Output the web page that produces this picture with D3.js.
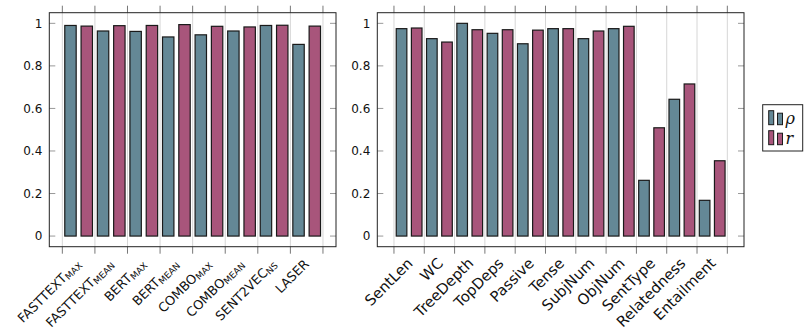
<!DOCTYPE html>
<html><head><meta charset="utf-8">
<script src="https://cdn.jsdelivr.net/npm/d3@7"></script>
<style>body{margin:0;background:#fff}svg{display:block}text{font-family:"DejaVu Sans",sans-serif}</style>
</head><body>
<svg id="c" width="806" height="333"></svg>
<script>
// ---- data ----
const leftNames = ["FASTTEXT","FASTTEXT","BERT","BERT","COMBO","COMBO","SENT2VEC","LASER"];
const leftSubs  = ["MAX","MEAN","MAX","MEAN","MAX","MEAN","NS",""];
const leftRho   = [0.990,0.964,0.962,0.936,0.946,0.964,0.990,0.901];
const leftR     = [0.987,0.989,0.990,0.994,0.986,0.983,0.991,0.987];
const rightCats = ["SentLen","WC","TreeDepth","TopDeps","Passive","Tense","SubjNum","ObjNum","SentType","Relatedness","Entailment"];
const rightRho  = [0.975,0.928,1.000,0.953,0.904,0.975,0.928,0.975,0.262,0.643,0.168];
const rightR    = [0.978,0.912,0.970,0.970,0.968,0.975,0.964,0.986,0.509,0.715,0.354];
const yTicks    = [0,0.2,0.4,0.6,0.8,1];
const yTickLabels = ["0","0.2","0.4","0.6","0.8","1"];
const seriesNames = ["ρ","r"];
const colors = ["#648896","#a8557b"];

const svg = d3.select("#c");
const yTop = 12.7, yBot = 246.7;
const y = d3.scaleLinear().domain([-0.05,1.05]).range([yBot,yTop]);

function panel(x0,x1,n,rho,r,labelFn,dxl){
  const g = svg.append("g");
  const x = d3.scaleLinear().domain([-0.05*n,1.05*n]).range([x0,x1]);
  const bounds = d3.range(n+1);
  g.selectAll(".grid").data(bounds).join("line")
    .attr("x1",d=>x(d)).attr("x2",d=>x(d)).attr("y1",yTop).attr("y2",yBot)
    .attr("stroke","#d6d6d6").attr("stroke-width",1);
  g.selectAll(".tt").data(bounds).join("line")
    .attr("x1",d=>x(d)).attr("x2",d=>x(d)).attr("y1",yTop-7).attr("y2",yTop)
    .attr("stroke","#777").attr("stroke-width",1);
  g.selectAll(".tb").data(bounds).join("line")
    .attr("x1",d=>x(d)).attr("x2",d=>x(d)).attr("y1",yBot).attr("y2",yBot+7)
    .attr("stroke","#777").attr("stroke-width",1);
  yTicks.forEach(t=>{
    g.append("line").attr("x1",x0).attr("x2",x0+6).attr("y1",y(t)).attr("y2",y(t)).attr("stroke","#999");
    g.append("line").attr("x1",x1-6).attr("x2",x1).attr("y1",y(t)).attr("y2",y(t)).attr("stroke","#999");
  });
  g.selectAll(".yl").data(yTicks).join("text")
    .attr("x",x0-7).attr("y",d=>y(d)).attr("text-anchor","end").attr("dy","0.36em")
    .attr("font-size",12).attr("fill","#111").text((d,i)=>yTickLabels[i]);
  const bw = x(0.35)-x(0);
  [rho,r].forEach((vals,s)=>{
    g.selectAll(".b"+s).data(vals).join("rect")
      .attr("x",(d,i)=>x(i+0.25+0.5*s)-bw/2).attr("width",bw)
      .attr("y",d=>y(d)).attr("height",d=>y(0)-y(d))
      .attr("fill",colors[s]).attr("stroke","#1a1a1a").attr("stroke-width",1.2);
  });
  g.append("rect").attr("x",x0).attr("y",yTop).attr("width",x1-x0).attr("height",yBot-yTop)
    .attr("fill","none").attr("stroke","#222").attr("stroke-width",1);
  d3.range(n).forEach(i=>{
    const t = g.append("text")
      .attr("transform",`translate(${x(i+0.5)+dxl},${yBot+10}) rotate(-45)`)
      .attr("text-anchor","end").attr("dy","0.72em").attr("fill","#111");
    labelFn(t,i);
  });
}

panel(49.3,336,8,leftRho,leftR,(t,i)=>{
  t.append("tspan").attr("font-size",12.8).text(leftNames[i]);
  if(leftSubs[i]) t.append("tspan").attr("font-size",9).attr("dy","0.2em").text(leftSubs[i]);
},-5);
panel(377.3,744,11,rightRho,rightR,(t,i)=>{
  t.attr("font-size",14.8).text(rightCats[i]);
},-3);

// legend
const lg = svg.append("g");
lg.append("rect").attr("x",762.7).attr("y",104.7).attr("width",40).attr("height",46.3)
  .attr("fill","#fff").attr("stroke","#222");
seriesNames.forEach((nm,s)=>{
  const by = 124.7 + s*20;
  lg.append("rect").attr("x",768.7).attr("y",by-14).attr("width",5).attr("height",14)
    .attr("fill",colors[s]).attr("stroke","#1a1a1a").attr("stroke-width",1);
  lg.append("rect").attr("x",777.5).attr("y",by-11.5).attr("width",5).attr("height",11.5)
    .attr("fill",colors[s]).attr("stroke","#1a1a1a").attr("stroke-width",1);
  lg.append("text").attr("x",785.5).attr("y",by-1).attr("font-size",16)
    .attr("font-style","italic").style("font-family","'DejaVu Serif',serif").attr("fill","#111").text(nm);
});
</script>
</body></html>
